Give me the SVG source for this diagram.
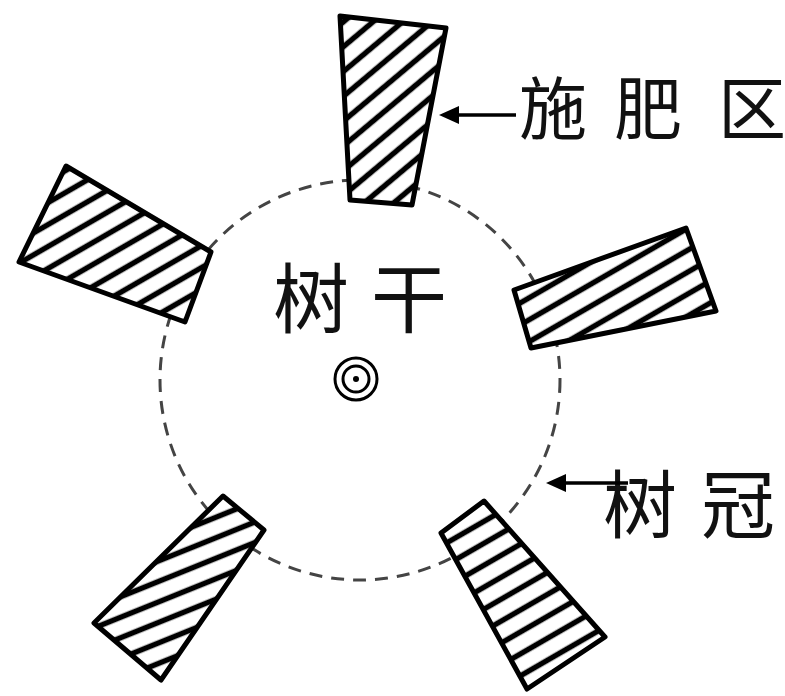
<svg xmlns="http://www.w3.org/2000/svg" width="785" height="696" viewBox="0 0 785 696">
  <style>
    .blk { stroke: #000; stroke-width: 5; stroke-linejoin: round; }
    .lbl { font-family: "Noto Sans CJK SC", sans-serif; fill: #111; }
    .arr { stroke: #000; stroke-width: 3.5; fill: none; }
    .head { fill: #000; }
    .crown { fill: none; stroke: #444; stroke-width: 3; stroke-dasharray: 13 9; }
  </style>
  <defs>
    <pattern id="h40" patternUnits="userSpaceOnUse" width="19" height="19" patternTransform="rotate(-40)">
      <rect width="19" height="19" fill="#fff"/>
      <line x1="0" y1="9.5" x2="19" y2="9.5" stroke="#000" stroke-width="5.5"/>
    </pattern>
    <pattern id="h30" patternUnits="userSpaceOnUse" width="19" height="19" patternTransform="rotate(-30)">
      <rect width="19" height="19" fill="#fff"/>
      <line x1="0" y1="9.5" x2="19" y2="9.5" stroke="#000" stroke-width="5.5"/>
    </pattern>
    <pattern id="h22" patternUnits="userSpaceOnUse" width="19" height="19" patternTransform="rotate(-22)">
      <rect width="19" height="19" fill="#fff"/>
      <line x1="0" y1="9.5" x2="19" y2="9.5" stroke="#000" stroke-width="5.5"/>
    </pattern>
  </defs>
  <rect width="785" height="696" fill="#fff"/>

  <g id="crown-circle">
    <circle class="crown" cx="360" cy="380" r="200"/>
  </g>

  <g id="zone-top">
    <polygon class="blk" fill="url(#h40)" points="340,16 446,28 412,205 350,200"/>
  </g>
  <g id="zone-left">
    <polygon class="blk" fill="url(#h30)" points="66,166 211,252 185,322 19,262"/>
  </g>
  <g id="zone-right">
    <polygon class="blk" fill="url(#h30)" points="514,290 686,228 716,311 531,348"/>
  </g>
  <g id="zone-bottom-left">
    <polygon class="blk" fill="url(#h22)" points="223,496 264,530 161,680 94,623"/>
  </g>
  <g id="zone-bottom-right">
    <polygon class="blk" fill="url(#h30)" points="441,533 484,501 605,637 527,689"/>
  </g>

  <g id="trunk">
    <circle cx="356" cy="379" r="21" fill="none" stroke="#000" stroke-width="3"/>
    <circle cx="356" cy="379" r="13" fill="none" stroke="#000" stroke-width="3"/>
    <circle cx="356" cy="379" r="3" fill="#000"/>
    <text class="lbl" x="273 371" y="327" font-size="76">树干</text>
  </g>

  <g id="label-fertilizer">
    <text class="lbl" x="519 614 718" y="134" font-size="68">施肥区</text>
  </g>
  <g id="label-crown">
    <text class="lbl" x="603 701" y="532" font-size="74">树冠</text>
  </g>

  <g id="connectors">
    <line class="arr" x1="516" y1="115" x2="452" y2="115"/>
    <path class="head" d="M439,115 L459,106 L459,124 Z"/>
    <line class="arr" x1="628" y1="483" x2="560" y2="483"/>
    <path class="head" d="M546,483 L566,474 L566,492 Z"/>
  </g>
</svg>
